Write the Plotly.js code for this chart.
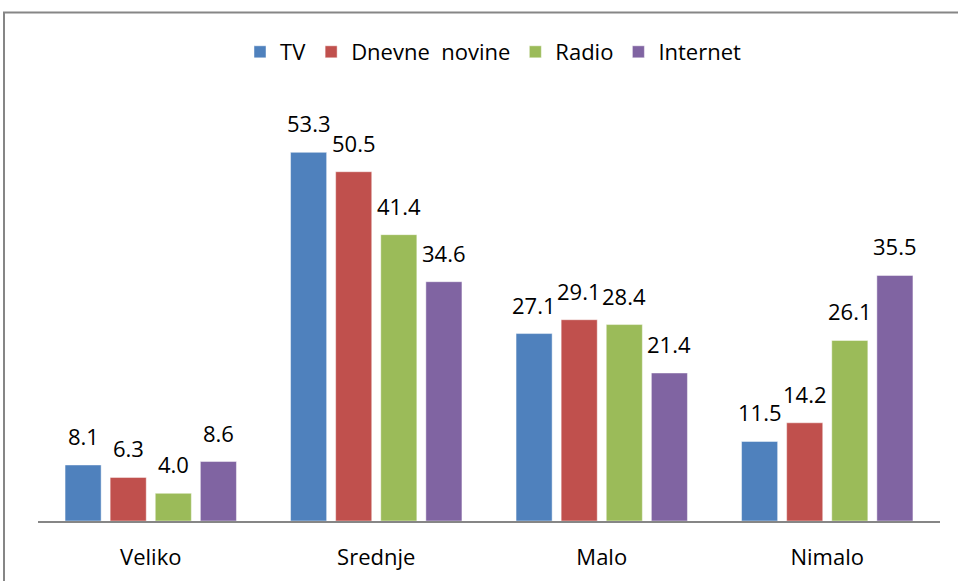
<!DOCTYPE html>
<html>
<head>
<meta charset="utf-8">
<script src="https://cdn.plot.ly/plotly-3.0.1.min.js"></script>
<style>html,body{margin:0;padding:0;background:#fff;}#chart{width:958px;height:581px;}</style>
</head>
<body>
<div id="chart"></div>
<script>
const categories = ["Veliko", "Srednje", "Malo", "Nimalo"];
const seriesNames = ["TV", "Dnevne  novine", "Radio", "Internet"];
const tvValues = [8.1, 53.3, 27.1, 11.5];
const dnevneValues = [6.3, 50.5, 29.1, 14.2];
const radioValues = [4.0, 41.4, 28.4, 26.1];
const internetValues = [8.6, 34.6, 21.4, 35.5];
const seriesColors = ["#4F81BD", "#C0504D", "#9BBB59", "#8064A2"];

const allValues = [tvValues, dnevneValues, radioValues, internetValues];
const FONT = "Open Sans, Liberation Sans, sans-serif";

const traces = allValues.map((vals, i) => ({
  type: "bar",
  name: seriesNames[i],
  x: categories,
  y: vals,
  marker: {color: seriesColors[i], line: {color: "rgba(255,255,255,0.45)", width: 1}},
  hoverinfo: "x+y+name"
}));

const slotPx = 45;
const annotations = [];
allValues.forEach((vals, i) => {
  vals.forEach((v, j) => {
    annotations.push({
      x: categories[j], y: v, xref: "x", yref: "y",
      text: v.toFixed(1), showarrow: false,
      xanchor: "center", yanchor: "bottom",
      xshift: (i - 1.5) * slotPx, yshift: 12,
      font: {family: FONT, size: 22, color: "#000"}
    });
  });
});

const layout = {
  width: 958, height: 581,
  margin: {l: 38, r: 18, t: 100, b: 60, pad: 0},
  paper_bgcolor: "#fff", plot_bgcolor: "#fff",
  barmode: "group", bargap: 0.2, bargroupgap: 0.2,
  font: {family: FONT, color: "#000"},
  showlegend: true,
  legend: {
    orientation: "h", x: 0.505, xanchor: "center",
    yref: "container", y: 1 - 52 / 581, yanchor: "middle",
    font: {family: FONT, size: 22, color: "#000"},
    traceorder: "normal", itemwidth: 30
  },
  xaxis: {
    type: "category", showline: true, linecolor: "#868686", linewidth: 2,
    ticks: "", showgrid: false, zeroline: false,
    tickfont: {family: FONT, size: 22, color: "#000"},
    ticklabelstandoff: 16, fixedrange: true
  },
  yaxis: {
    range: [0, 60.87], visible: false, showgrid: false, zeroline: false, fixedrange: true
  },
  annotations: annotations,
  shapes: [{
    type: "rect", xref: "paper", yref: "paper",
    x0: (4 - 38) / 902, x1: (962 - 38) / 902,
    y0: (521 - 590) / 421, y1: (521 - 12.5) / 421,
    line: {color: "#868686", width: 2}, fillcolor: "rgba(0,0,0,0)", layer: "above"
  }]
};

Plotly.newPlot("chart", traces, layout, {displayModeBar: false, staticPlot: true});
</script>
</body>
</html>
